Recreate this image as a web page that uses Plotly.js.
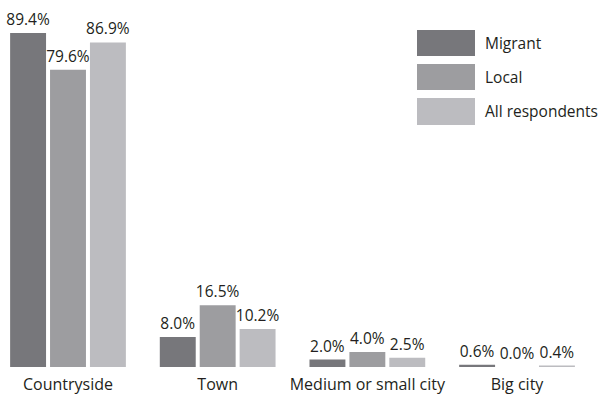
<!DOCTYPE html>
<html><head><meta charset="utf-8">
<script src="https://cdn.plot.ly/plotly-3.0.1.min.js"></script>
<style>html,body{margin:0;padding:0;background:#fff;}#chart{width:604px;height:396px;}</style>
</head><body><div id="chart"></div>
<script>
const categories = ["Countryside", "Town", "Medium or small city", "Big city"];
const seriesNames = ["Migrant", "Local", "All respondents"];
const migrant = [89.4, 8.0, 2.0, 0.6];
const local = [79.6, 16.5, 4.0, 0.0];
const allResp = [86.9, 10.2, 2.5, 0.4];
const colors = ["#77777b", "#9d9da0", "#bcbcc0"];
const seriesValues = [migrant, local, allResp];

const FONT = "Open Sans, sans-serif";
const traces = seriesValues.map((vals, i) => ({
  type: "bar",
  name: seriesNames[i],
  x: categories,
  y: vals,
  marker: {color: colors[i]},
  text: vals.map(v => v.toFixed(1) + "%"),
  textposition: "outside",
  constraintext: "none",
  cliponaxis: false,
  textfont: {family: FONT, size: 15.5, color: "#231f20"},
  hoverinfo: "skip",
  showlegend: false
}));

const W = 604, H = 396, L = 0, R = 0, T = 20, B = 29;
const pw = W - L - R, ph = H - T - B;
const px = x => (x - L) / pw;
const py = y => (H - B - y) / ph;

const shapes = [], annotations = [];
const legY = [[30, 56], [64, 90], [98, 125]];
seriesNames.forEach((n, i) => {
  shapes.push({type: "rect", xref: "paper", yref: "paper",
    x0: px(417), x1: px(475), y0: py(legY[i][1]), y1: py(legY[i][0]),
    fillcolor: colors[i], line: {width: 0}});
  annotations.push({xref: "paper", yref: "paper", x: px(483), y: py((legY[i][0] + legY[i][1]) / 2),
    xanchor: "left", yanchor: "middle", text: n, showarrow: false,
    font: {family: FONT, size: 15.5, color: "#231f20"}});
});

const layout = {
  width: W, height: H,
  margin: {l: L, r: R, t: T, b: B, pad: 0},
  paper_bgcolor: "#fff", plot_bgcolor: "#fff",
  barmode: "group", bargap: 0.2, bargroupgap: 0.1,
  showlegend: false,
  xaxis: {type: "category", range: [-0.4543, 3.581], showgrid: false, zeroline: false, showline: false,
    ticks: "", ticklabelstandoff: 6, tickfont: {family: FONT, size: 16, color: "#231f20"}},
  yaxis: {range: [0, 92.9], visible: false, showgrid: false, zeroline: false},
  shapes: shapes, annotations: annotations
};
Plotly.newPlot("chart", traces, layout, {displayModeBar: false, staticPlot: true});
</script></body></html>
